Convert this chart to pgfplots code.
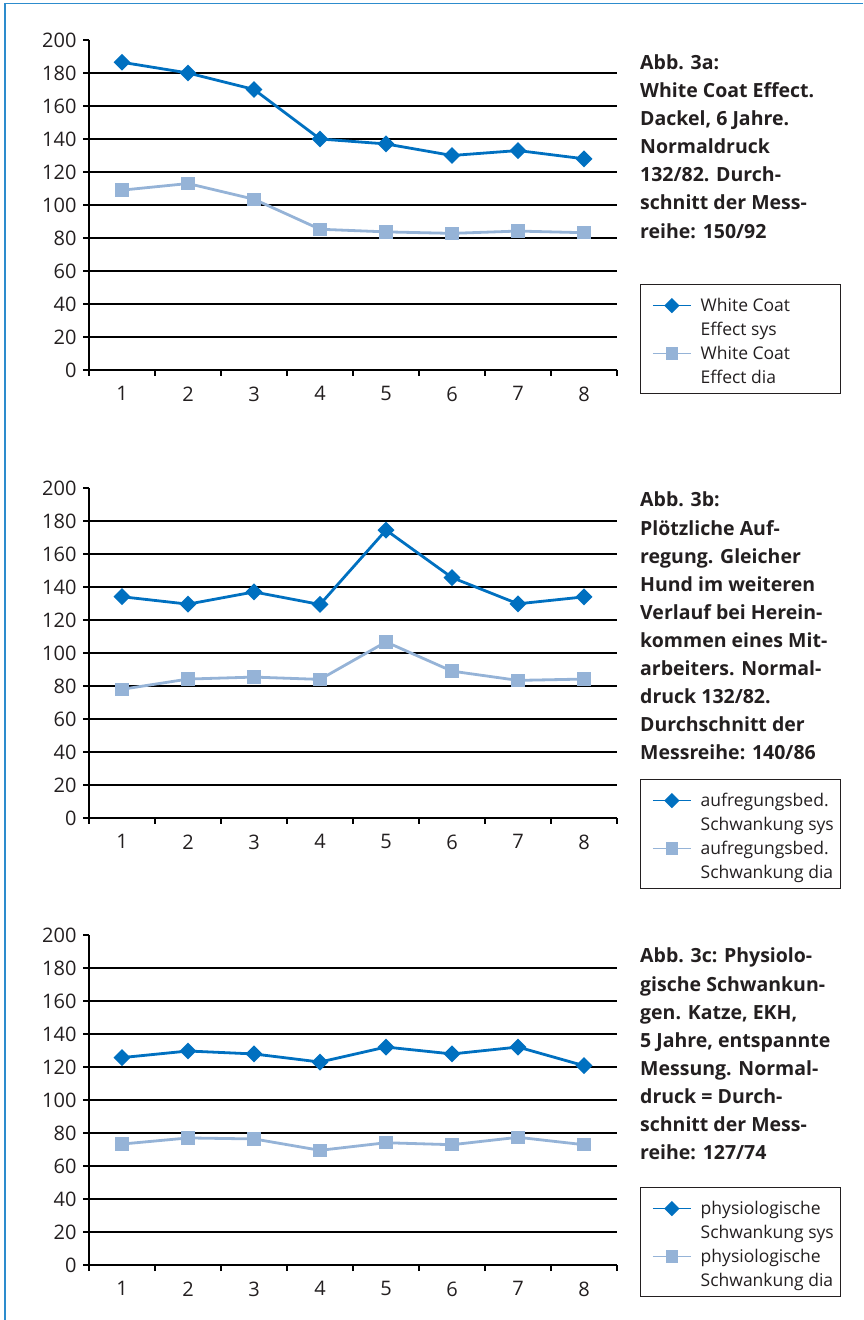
\documentclass[border=0pt]{standalone}
\usepackage{pgfplots}
\pgfplotsset{compat=1.18}
\usepackage{fontspec}
\setmainfont{Open Sans}

\definecolor{sysblue}{RGB}{0,112,192}
\definecolor{diablue}{RGB}{149,179,215}
\definecolor{frameblue}{RGB}{45,140,205}
\definecolor{txt}{RGB}{35,31,32}

\pgfplotsset{
  bpplot/.style={
    scale only axis, width=528pt, height=330pt,
    anchor=south west,
    xmin=0.5, xmax=8.5, ymin=0, ymax=200,
    axis x line*=bottom, axis y line*=left,
    axis line style={black, line width=1.3pt},
    xtick={0.5,1.5,...,8.5}, xticklabels={},
    ytick={0,20,...,200},
    tick style={black, line width=1.3pt},
    tick align=outside, major tick length=6pt,
    extra x ticks={1,2,3,4,5,6,7,8},
    extra x tick labels={1,2,3,4,5,6,7,8},
    extra x tick style={major tick length=0pt,
      xticklabel style={yshift=-13pt}},
    extra y ticks={20,40,...,180}, extra y tick labels={},
    extra y tick style={grid=major, major grid style={black, line width=1.2pt}},
    tick label style={font=\fontsize{20}{24}\selectfont, text=txt},
    yticklabel style={xshift=-3pt},
    /pgf/number format/assume math mode=true,
    legend style={
      anchor=north west,
      draw=txt, line width=1.2pt,
      inner xsep=11.5pt, inner ysep=0pt,
      nodes={inner sep=0pt, text height=16.8pt, text depth=7.2pt},
      column sep=9pt, row sep=0pt,
      font=\fontsize{17.5}{24}\selectfont, text=txt,
    },
    legend cell align=left,
  },
  sys/.style={sysblue, line width=2.8pt, mark=square*, mark size=4.6pt,
    mark options={rotate=45, solid},
    legend image code/.code={
      \draw[line width=1.6pt, mark repeat=2, mark phase=2, yshift=1pt]
        plot coordinates {(0pt,0pt) (19pt,0pt) (38pt,0pt)};
      \path[draw=none, fill=none] (0pt,0pt) -- (0pt,22pt);
    }},
  dia/.style={diablue, line width=2.8pt, mark=square*, mark size=5.3pt,
    legend image code/.code={
      \draw[line width=1.6pt, mark repeat=2, mark phase=2, yshift=1pt]
        plot coordinates {(0pt,0pt) (19pt,0pt) (38pt,0pt)};
    }},
  lastrow/.style={legend image code/.code={
      \path[draw=none, fill=none] (0pt,-15pt) -- (0pt,0pt);}},
}

\newcommand{\leg}[1]{\makebox[128pt][l]{#1}}
\newcommand{\figtext}[1]{\parbox[t]{220pt}{\raggedright\fontsize{19.5}{28.1}\selectfont\bfseries #1}}

\begin{document}
\begin{tikzpicture}
\useasboundingbox (0,0) rectangle (863pt,1320pt);
\draw[frameblue, line width=1.5pt] (5pt,0pt) -- (5pt,1316.5pt) -- (863pt,1316.5pt);

% Abb. 3a
\begin{axis}[bpplot, at={(89pt,950pt)},
  legend style={at={(axis description cs:1.0436,0.2606)}}]
\addplot[sys] coordinates {
  (1,186.5) (2,180) (3,170) (4,140) (5,137) (6,130) (7,133) (8,128)
};
\addlegendentry{\leg{White Coat}}
\addlegendimage{empty legend}
\addlegendentry{\leg{Effect sys}}
\addplot[dia] coordinates {
  (1,109) (2,113) (3,103.5) (4,85.3) (5,83.7) (6,82.8) (7,84.2) (8,83.2)
};
\addlegendentry{\leg{White Coat}}
\addlegendimage{lastrow}
\addlegendentry{\leg{Effect dia}}
\end{axis}
\node[anchor=base west, inner sep=0pt, text=txt] at (640pt,1250.5pt)
  {\figtext{Abb. 3a:\\White Coat Effect.\\Dackel, 6 Jahre.\\Normaldruck\\132/82. Durch-\\schnitt der Mess-\\reihe: 150/92}};

% Abb. 3b
\begin{axis}[bpplot, at={(89pt,502pt)},
  legend style={at={(axis description cs:1.0436,0.1182)}}]
\addplot[sys] coordinates {
  (1,134.1) (2,129.6) (3,137) (4,129.4) (5,174.5) (6,145.7) (7,129.8) (8,134)
};
\addlegendentry{\leg{aufregungsbed.}}
\addlegendimage{empty legend}
\addlegendentry{\leg{Schwankung sys}}
\addplot[dia] coordinates {
  (1,78) (2,84.2) (3,85.4) (4,84) (5,106.7) (6,89) (7,83.4) (8,84.2)
};
\addlegendentry{\leg{aufregungsbed.}}
\addlegendimage{lastrow}
\addlegendentry{\leg{Schwankung dia}}
\end{axis}
\node[anchor=base west, inner sep=0pt, text=txt] at (640pt,813pt)
  {\figtext{Abb. 3b:\\Plötzliche Auf-\\regung. Gleicher\\Hund im weiteren\\Verlauf bei Herein-\\kommen eines Mit-\\arbeiters. Normal-\\druck 132/82.\\Durchschnitt der\\Messreihe: 140/86}};

% Abb. 3c
\begin{axis}[bpplot, at={(89pt,55pt)},
  legend style={at={(axis description cs:1.0436,0.2364)}}]
\addplot[sys] coordinates {
  (1,125.7) (2,129.7) (3,127.9) (4,123) (5,132.1) (6,127.9) (7,132.1) (8,120.8)
};
\addlegendentry{\leg{physiologische}}
\addlegendimage{empty legend}
\addlegendentry{\leg{Schwankung sys}}
\addplot[dia] coordinates {
  (1,73.3) (2,77) (3,76.4) (4,69.5) (5,74.1) (6,72.9) (7,77.4) (8,72.9)
};
\addlegendentry{\leg{physiologische}}
\addlegendimage{lastrow}
\addlegendentry{\leg{Schwankung dia}}
\end{axis}
\node[anchor=base west, inner sep=0pt, text=txt] at (640pt,357pt)
  {\figtext{Abb. 3c: Physiolo-\\gische Schwankun-\\gen. Katze, EKH,\\5 Jahre, entspannte\\Messung. Normal-\\druck = Durch-\\schnitt der Mess-\\reihe: 127/74}};
\end{tikzpicture}
\end{document}
